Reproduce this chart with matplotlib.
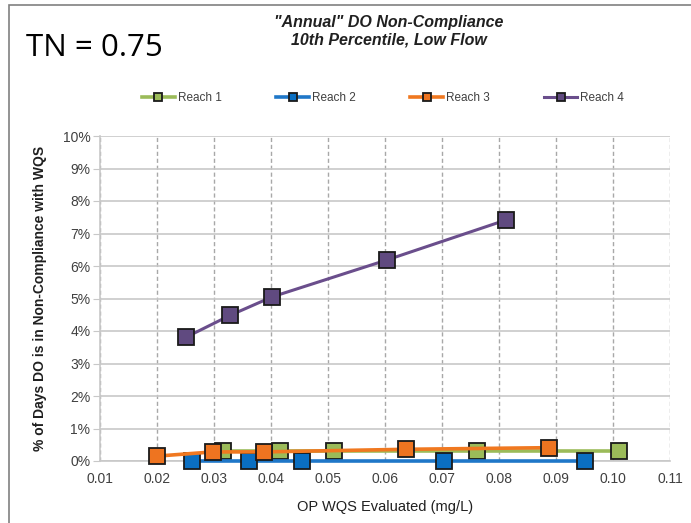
import matplotlib
matplotlib.use("Agg")
import matplotlib.pyplot as plt
from matplotlib import font_manager
from matplotlib.patches import Rectangle
from matplotlib.ticker import MultipleLocator, FuncFormatter

# values (x = OP WQS mg/L, y = % of days)
reach1_x = [0.0315, 0.0415, 0.0510, 0.0761, 0.1011]
reach1_y = [0.30, 0.30, 0.30, 0.30, 0.30]
reach2_x = [0.0262, 0.0362, 0.0455, 0.0704, 0.0950]
reach2_y = [0.0, 0.0, 0.0, 0.0, 0.0]
reach3_x = [0.0200, 0.0298, 0.0387, 0.0636, 0.0888]
reach3_y = [0.15, 0.28, 0.28, 0.36, 0.41]
reach4_x = [0.0251, 0.0328, 0.0402, 0.0604, 0.0813]
reach4_y = [3.81, 4.48, 5.05, 6.19, 7.42]

series = [
    ("Reach 1", reach1_x, reach1_y, "#9BBB59", "#9BBB59"),
    ("Reach 2", reach2_x, reach2_y, "#1F77C8", "#0A6FC2"),
    ("Reach 3", reach3_x, reach3_y, "#F07820", "#EE7420"),
    ("Reach 4", reach4_x, reach4_y, "#6A4E8C", "#604A80"),
]

names = {f.name for f in font_manager.fontManager.ttflist}
narrow = "Liberation Sans Narrow" if "Liberation Sans Narrow" in names else "Liberation Sans"

fig = plt.figure(figsize=(6.91, 5.23), dpi=100)
fig.patch.set_facecolor("white")
# slide frame: left and top edges only are visible
fig.patches.append(Rectangle((9 / 691, -0.05), 1.05, 1 - 5 / 523 + 0.05,
                             transform=fig.transFigure, fill=False,
                             edgecolor="#808080", linewidth=1.2))

ax = fig.add_axes([100 / 691, 1 - 461 / 523, 570 / 691, 325 / 523])

for name, xs, ys, lc, mc in series:
    ax.plot(xs, ys, color=lc, linewidth=2.6 if name != "Reach 4" else 2.2,
            marker="s", markersize=11, markerfacecolor=mc,
            markeredgecolor="#1a1a1a", markeredgewidth=1.3,
            label=name, zorder=3, clip_on=False)

ax.set_xlim(0.01, 0.11)
ax.set_ylim(0, 10)
ax.xaxis.set_major_locator(MultipleLocator(0.01))
ax.yaxis.set_major_locator(MultipleLocator(1))
ax.xaxis.set_major_formatter(FuncFormatter(lambda v, p: f"{v:.2f}"))
ax.yaxis.set_major_formatter(FuncFormatter(lambda v, p: f"{v:.0f}%"))

ax.grid(True, axis="y", color="#c8c8c8", linewidth=1.2, linestyle="-")
ax.grid(True, axis="x", color="#a8a8a8", linewidth=1.0, linestyle=(0, (3, 2)))
ax.set_axisbelow(True)
for s in ["top", "right"]:
    ax.spines[s].set_visible(False)
ax.spines["left"].set_color("#c8c8c8")
ax.spines["bottom"].set_color("#c8c8c8")
ax.spines["left"].set_linewidth(1.2)
ax.spines["bottom"].set_linewidth(1.2)

ax.tick_params(axis="y", length=5, color="#c8c8c8", labelsize=10, labelcolor="#404040", pad=2)
ax.tick_params(axis="x", length=0, labelsize=10, labelcolor="#404040", pad=8)
for lab in ax.get_xticklabels() + ax.get_yticklabels():
    lab.set_fontfamily(narrow)

ax.set_xlabel("OP WQS Evaluated (mg/L)", fontsize=10.5, family=narrow, color="#202020", labelpad=10)
ax.set_ylabel("% of Days DO is in Non-Compliance with WQS", fontsize=10, family=narrow,
              fontweight="bold", color="#202020", labelpad=11)

fig.text(389 / 691, 1 - 23 / 523, "\"Annual\" DO Non-Compliance", ha="center", va="center",
         fontsize=11.5, family=narrow, fontweight="bold", fontstyle="italic", color="#202020")
fig.text(389 / 691, 1 - 40 / 523, "10th Percentile, Low Flow", ha="center", va="center",
         fontsize=11.5, family=narrow, fontweight="bold", fontstyle="italic", color="#202020")
fig.text(26 / 691, 1 - 48 / 523, "TN = 0.75", ha="left", va="center",
         fontsize=22.5, family="Open Sans", color="black")

leg = fig.legend(loc="center", bbox_to_anchor=(383 / 691, 1 - 98 / 523), ncol=4,
                 frameon=False, prop={"family": narrow, "size": 8.5},
                 handlelength=2.8, handletextpad=0.25, columnspacing=4.6, markerscale=0.55)
for t in leg.get_texts():
    t.set_color("#404040")

fig.savefig("out.png", dpi=100)
